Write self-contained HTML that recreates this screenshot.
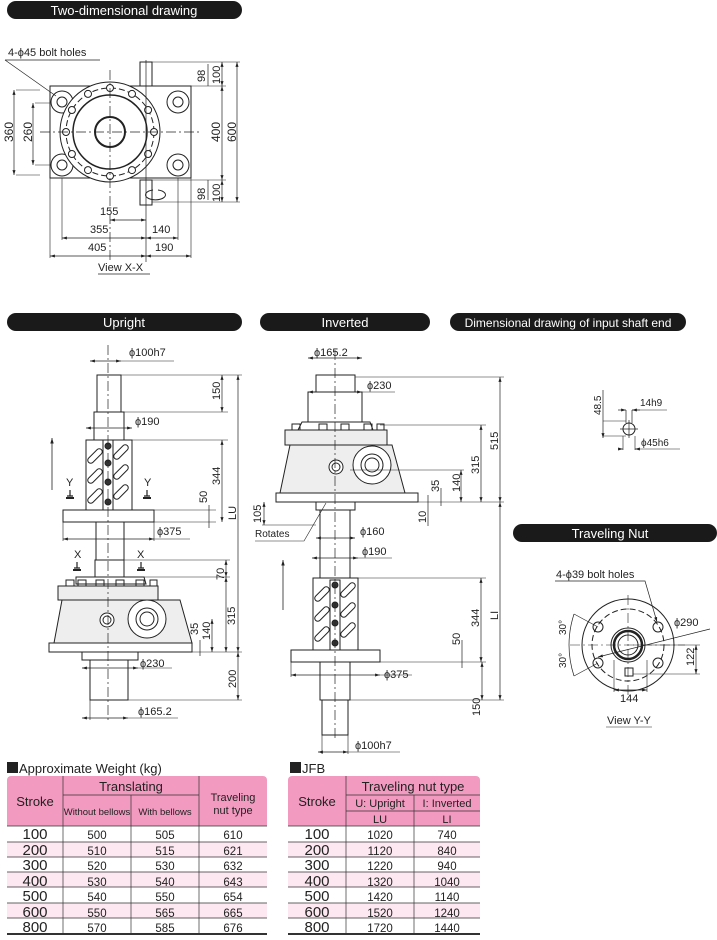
<!DOCTYPE html>
<html><head><meta charset="utf-8"><style>
body{margin:0;background:#fff;width:717px;height:940px;overflow:hidden;font-family:"Liberation Sans",sans-serif}
svg{display:block}
text{font-family:"Liberation Sans",sans-serif;fill:#222}
</style></head><body>
<svg width="717" height="940" viewBox="0 0 717 940" xmlns="http://www.w3.org/2000/svg">
<defs>
<marker id="a" markerWidth="8" markerHeight="6" refX="7" refY="3" orient="auto-start-reverse"><path d="M0,0.8 L7,3 L0,5.2z" fill="#222"/></marker>
<g id="slot"><rect x="-9" y="-3" width="18" height="6" rx="3" transform="rotate(-45)"/></g>
<g id="mk"><path d="M0,0V6M-3,6H3" stroke="#222" stroke-width="1.2"/><path d="M-4,8H4" stroke="#222" stroke-width="2"/></g>
</defs>
<g>
<rect x="7" y="1" width="235" height="18" rx="9" fill="#1a1a1a"/>
<text x="124" y="15" font-size="13" text-anchor="middle" style="fill:#fff">Two-dimensional drawing</text>
<rect x="7" y="313" width="235" height="18" rx="9" fill="#1a1a1a"/>
<text x="124" y="327" font-size="13" text-anchor="middle" style="fill:#fff">Upright</text>
<rect x="260" y="313" width="170" height="18" rx="9" fill="#1a1a1a"/>
<text x="345" y="327" font-size="13" text-anchor="middle" style="fill:#fff">Inverted</text>
<rect x="450" y="313" width="236" height="18" rx="9" fill="#1a1a1a"/>
<text x="568" y="327" font-size="12" text-anchor="middle" style="fill:#fff">Dimensional drawing of input shaft end</text>
<rect x="513" y="524" width="204" height="18" rx="9" fill="#1a1a1a"/>
<text x="610" y="538" font-size="13" text-anchor="middle" style="fill:#fff">Traveling Nut</text>
</g>

<g stroke="#222" stroke-width="1" fill="none">
<!-- top view -->
<rect x="50" y="86" width="141" height="92" fill="#fff"/>
<rect x="140" y="62" width="12" height="24" fill="#fff"/>
<rect x="140" y="180" width="12" height="25" fill="#fff"/>
<circle cx="62" cy="102" r="11" fill="#fff"/><circle cx="62" cy="102" r="5"/>
<circle cx="178" cy="102" r="11" fill="#fff"/><circle cx="178" cy="102" r="5"/>
<circle cx="62" cy="165" r="11" fill="#fff"/><circle cx="62" cy="165" r="5"/>
<circle cx="178" cy="165" r="11" fill="#fff"/><circle cx="178" cy="165" r="5"/>
<circle cx="110" cy="132" r="50" fill="#fff"/>
<circle cx="110" cy="132" r="44" stroke-dasharray="6 3"/>
<circle cx="110" cy="132" r="37" stroke-width="1.5"/>
<circle cx="110" cy="132" r="15" stroke-width="2"/>
<g fill="#fff">
<circle cx="154" cy="132" r="3.5"/><circle cx="148.1" cy="154" r="3.5"/><circle cx="132" cy="170.1" r="3.5"/><circle cx="110" cy="176" r="3.5"/><circle cx="88" cy="170.1" r="3.5"/><circle cx="71.9" cy="154" r="3.5"/><circle cx="66" cy="132" r="3.5"/><circle cx="71.9" cy="110" r="3.5"/><circle cx="88" cy="93.9" r="3.5"/><circle cx="110" cy="88" r="3.5"/><circle cx="132" cy="93.9" r="3.5"/><circle cx="148.1" cy="110" r="3.5"/>
</g>
<line x1="40" y1="132" x2="200" y2="132" stroke-dasharray="10 3 2 3" stroke-width="0.7"/>
<line x1="110" y1="70" x2="110" y2="260" stroke-dasharray="10 3 2 3" stroke-width="0.7"/>
<line x1="146" y1="60" x2="146" y2="262" stroke-width="0.7"/>
<path d="M153,190 a10,5 0 1 0 5,0"/>
<path d="M152,62H240M170,86H226M152,180H226M152,202H240M40,90H16M40,175H16M50,103H35M50,165H35" stroke-width="0.6"/>
<line x1="237" y1="62" x2="237" y2="202" marker-start="url(#a)" marker-end="url(#a)" stroke-width="0.7"/>
<line x1="222" y1="86" x2="222" y2="180" marker-start="url(#a)" marker-end="url(#a)" stroke-width="0.7"/>
<line x1="222" y1="62" x2="222" y2="86" marker-start="url(#a)" marker-end="url(#a)" stroke-width="0.7"/>
<line x1="208" y1="64" x2="208" y2="86" stroke-width="0.7"/>
<line x1="222" y1="180" x2="222" y2="202" marker-start="url(#a)" marker-end="url(#a)" stroke-width="0.7"/>
<line x1="208" y1="180" x2="208" y2="200" stroke-width="0.7"/>
<line x1="14" y1="90" x2="14" y2="175" marker-start="url(#a)" marker-end="url(#a)" stroke-width="0.7"/>
<line x1="33" y1="103" x2="33" y2="165" marker-start="url(#a)" marker-end="url(#a)" stroke-width="0.7"/>
<line x1="110" y1="220" x2="146" y2="220" marker-start="url(#a)" marker-end="url(#a)" stroke-width="0.7"/>
<line x1="62" y1="238" x2="146" y2="238" marker-start="url(#a)" marker-end="url(#a)" stroke-width="0.7"/>
<line x1="146" y1="238" x2="178" y2="238" marker-start="url(#a)" marker-end="url(#a)" stroke-width="0.7"/>
<line x1="50" y1="256" x2="146" y2="256" marker-start="url(#a)" marker-end="url(#a)" stroke-width="0.7"/>
<line x1="146" y1="256" x2="191" y2="256" marker-start="url(#a)" marker-end="url(#a)" stroke-width="0.7"/>
<path d="M62,178V240M178,178V240M50,178V258M191,178V258" stroke-width="0.6"/>
<path d="M5,60H100M5,60L56,96" stroke-width="0.7"/>
<line x1="98" y1="274" x2="150" y2="274" stroke-width="0.8"/>

<!-- upright -->
<rect x="97" y="375" width="24" height="37" fill="#fff"/>
<rect x="94" y="412" width="30" height="28" fill="#fff"/>
<rect x="86" y="440" width="46" height="70" fill="#fff"/>
<use href="#slot" x="95" y="456"/><use href="#slot" x="95" y="476"/><use href="#slot" x="95" y="496"/>
<use href="#slot" x="121" y="452"/><use href="#slot" x="121" y="472"/><use href="#slot" x="121" y="492"/>
<rect x="103" y="440" width="10" height="70" fill="#fff"/>
<g fill="#333"><circle cx="108" cy="446" r="3"/><circle cx="108" cy="463" r="3"/><circle cx="108" cy="482" r="3"/><circle cx="108" cy="502" r="3"/></g>
<rect x="63" y="510" width="91" height="12" fill="#fff"/>
<rect x="96" y="522" width="28" height="38" fill="#fff"/>
<rect x="95" y="560" width="29" height="17" fill="#fff"/>
<path d="M76,577H144L146,584H76z" fill="#fff"/>
<rect x="58" y="586" width="100" height="14" fill="#eee"/>
<path d="M62,600L54,643H192L180,600z" fill="#eee"/>
<rect x="49" y="643" width="143" height="9" fill="#fff"/>
<circle cx="107" cy="620" r="7" fill="#fff"/><circle cx="107" cy="620" r="4"/>
<circle cx="147" cy="619" r="19" fill="#fff"/><circle cx="147" cy="619" r="11"/><circle cx="147" cy="619" r="7"/>
<rect x="82" y="652" width="56" height="8" fill="#fff"/>
<rect x="90" y="660" width="38" height="40" fill="#fff"/>
<path d="M66,586V580H74V586M78,586V580H86V586M96,586V580H104V586M116,586V580H124V586M136,586V580H144V586M150,586V580H157V586"/>
<line x1="108" y1="345" x2="108" y2="720" stroke-dasharray="10 3 2 3" stroke-width="0.7"/>
<line x1="52" y1="490" x2="52" y2="438" marker-end="url(#a)" stroke-width="0.8"/>
<path d="M121,375H242M124,412H228M132,440H228M154,510H216M154,522H216M124,560H230M124,577H230M192,652H242M128,700H242" stroke-width="0.6"/>
<line x1="238" y1="375" x2="238" y2="652" marker-start="url(#a)" marker-end="url(#a)" stroke-width="0.7"/>
<line x1="238" y1="652" x2="238" y2="700" marker-start="url(#a)" marker-end="url(#a)" stroke-width="0.7"/>
<line x1="222" y1="375" x2="222" y2="412" marker-start="url(#a)" marker-end="url(#a)" stroke-width="0.7"/>
<line x1="222" y1="440" x2="222" y2="522" marker-start="url(#a)" marker-end="url(#a)" stroke-width="0.7"/>
<line x1="209" y1="505" x2="209" y2="528" stroke-width="0.7"/>
<line x1="226" y1="560" x2="226" y2="577" marker-start="url(#a)" marker-end="url(#a)" stroke-width="0.7"/>
<line x1="226" y1="577" x2="226" y2="652" marker-start="url(#a)" marker-end="url(#a)" stroke-width="0.7"/>
<line x1="212" y1="619" x2="212" y2="652" marker-start="url(#a)" marker-end="url(#a)" stroke-width="0.7"/>
<line x1="200" y1="640" x2="200" y2="656" stroke-width="0.7"/>
<line x1="90" y1="361" x2="121" y2="361" marker-start="url(#a)" marker-end="url(#a)" stroke-width="0.7"/><path d="M121,361H174" stroke-width="0.6"/>
<line x1="86" y1="428" x2="132" y2="428" marker-start="url(#a)" marker-end="url(#a)" stroke-width="0.7"/>
<line x1="63" y1="539" x2="154" y2="539" marker-start="url(#a)" marker-end="url(#a)" stroke-width="0.7"/><path d="M154,539H190M63,522V541M154,522V541" stroke-width="0.6"/>
<line x1="82" y1="668" x2="138" y2="668" marker-start="url(#a)" marker-end="url(#a)" stroke-width="0.7"/><path d="M138,668H172" stroke-width="0.6"/>
<line x1="82" y1="718" x2="128" y2="718" marker-start="url(#a)" marker-end="url(#a)" stroke-width="0.7"/><path d="M128,718H178M90,700V720" stroke-width="0.6"/>
<use href="#mk" x="70" y="490"/><use href="#mk" x="147" y="490"/><use href="#mk" x="77" y="562"/><use href="#mk" x="141" y="562"/>

<!-- inverted -->
<rect x="316" y="375" width="39" height="17" fill="#fff"/>
<rect x="308" y="392" width="54" height="30" fill="#fff"/>
<path d="M302,422H370L373,430H298z" fill="#fff"/>
<rect x="285" y="430" width="102" height="15" fill="#eee"/>
<path d="M290,445L280,493H405L392,445z" fill="#eee"/>
<rect x="276" y="493" width="142" height="9" fill="#fff"/>
<circle cx="336" cy="467" r="7" fill="#fff"/><circle cx="336" cy="467" r="4"/>
<circle cx="372" cy="465" r="19" fill="#fff"/><circle cx="372" cy="465" r="11"/><circle cx="372" cy="465" r="7"/>
<path d="M292,430V424H300V430M319,430V424H327V430M341,430V424H349V430M364,430V424H372V430M377,430V424H384V430"/>
<rect x="316" y="502" width="39" height="8" fill="#fff"/>
<rect x="320" y="510" width="30" height="68" fill="#fff"/>
<rect x="313" y="578" width="45" height="72" fill="#fff"/>
<use href="#slot" x="322" y="594"/><use href="#slot" x="322" y="614"/><use href="#slot" x="322" y="634"/>
<use href="#slot" x="348" y="590"/><use href="#slot" x="348" y="610"/><use href="#slot" x="348" y="630"/>
<rect x="330" y="580" width="10" height="70" fill="#fff"/>
<g fill="#333"><circle cx="335" cy="585" r="3"/><circle cx="335" cy="605" r="3"/><circle cx="335" cy="623" r="3"/><circle cx="335" cy="643" r="3"/></g>
<rect x="291" y="650" width="89" height="12" fill="#fff"/>
<rect x="320" y="662" width="30" height="38" fill="#fff"/>
<rect x="322" y="700" width="26" height="35" fill="#fff"/>
<line x1="335" y1="350" x2="335" y2="740" stroke-dasharray="10 3 2 3" stroke-width="0.7"/>
<line x1="283" y1="610" x2="283" y2="560" marker-end="url(#a)" stroke-width="0.8"/>
<path d="M355,377H504M380,425H486M418,502H504M358,578H486M380,662H486M350,700H504M350,470H464M400,502H432" stroke-width="0.6"/>
<line x1="500" y1="377" x2="500" y2="502" marker-start="url(#a)" marker-end="url(#a)" stroke-width="0.7"/>
<line x1="500" y1="502" x2="500" y2="700" marker-start="url(#a)" marker-end="url(#a)" stroke-width="0.7"/>
<line x1="481" y1="425" x2="481" y2="502" marker-start="url(#a)" marker-end="url(#a)" stroke-width="0.7"/>
<line x1="461" y1="470" x2="461" y2="502" marker-start="url(#a)" marker-end="url(#a)" stroke-width="0.7"/>
<line x1="441" y1="488" x2="441" y2="506" stroke-width="0.7"/>
<line x1="428" y1="495" x2="428" y2="526" stroke-width="0.7"/>
<line x1="481" y1="578" x2="481" y2="662" marker-start="url(#a)" marker-end="url(#a)" stroke-width="0.7"/>
<line x1="462" y1="640" x2="462" y2="668" stroke-width="0.7"/>
<line x1="482" y1="662" x2="482" y2="700" marker-start="url(#a)" marker-end="url(#a)" stroke-width="0.7"/>
<line x1="264" y1="502" x2="264" y2="525" marker-start="url(#a)" marker-end="url(#a)" stroke-width="0.7"/>
<path d="M262,525H316M255,541H304L326,503" stroke-width="0.6"/>
<line x1="308" y1="358" x2="362" y2="358" marker-start="url(#a)" marker-end="url(#a)" stroke-width="0.7"/>
<line x1="308" y1="392" x2="362" y2="392" marker-start="url(#a)" marker-end="url(#a)" stroke-width="0.7"/><path d="M362,392H395" stroke-width="0.6"/>
<line x1="316" y1="538" x2="355" y2="538" marker-start="url(#a)" marker-end="url(#a)" stroke-width="0.7"/>
<line x1="312" y1="558" x2="358" y2="558" marker-start="url(#a)" marker-end="url(#a)" stroke-width="0.7"/><path d="M358,558H392" stroke-width="0.6"/>
<line x1="291" y1="675" x2="380" y2="675" marker-start="url(#a)" marker-end="url(#a)" stroke-width="0.7"/><path d="M380,675H412M291,662V677" stroke-width="0.6"/>
<line x1="318" y1="752" x2="348" y2="752" marker-start="url(#a)" marker-end="url(#a)" stroke-width="0.7"/><path d="M348,752H400M322,735V754M348,735V754" stroke-width="0.6"/>

<!-- shaft end -->
<circle cx="629" cy="429" r="6" fill="#fff"/>
<path d="M620,429H638M629,420V438M626,410V423M632,410V423" stroke-width="0.7"/>
<line x1="603" y1="390" x2="603" y2="438" marker-end="url(#a)" stroke-width="0.7"/>
<path d="M603,421H626M603,436H626" stroke-width="0.6"/>
<line x1="618" y1="410" x2="626" y2="410" marker-end="url(#a)" stroke-width="0.7"/><line x1="640" y1="410" x2="632" y2="410" marker-end="url(#a)" stroke-width="0.7"/><path d="M632,410H667" stroke-width="0.6"/>
<line x1="618" y1="449" x2="623" y2="449" marker-end="url(#a)" stroke-width="0.7"/><line x1="640" y1="449" x2="635" y2="449" marker-end="url(#a)" stroke-width="0.7"/><path d="M635,449H680M623,436V450M635,436V450" stroke-width="0.6"/>

<!-- traveling nut -->
<circle cx="628" cy="645" r="46" fill="#fff"/>
<circle cx="628" cy="645" r="36" stroke-dasharray="6 3"/>
<circle cx="628" cy="645" r="17"/><circle cx="628" cy="645" r="14" stroke-width="2.5"/><circle cx="628" cy="645" r="10"/>
<circle cx="598" cy="627" r="5"/><circle cx="658" cy="627" r="5"/><circle cx="598" cy="663" r="5"/><circle cx="658" cy="663" r="5"/>
<rect x="625" y="668" width="8" height="8"/>
<line x1="570" y1="645" x2="685" y2="645" stroke-dasharray="10 3 2 3" stroke-width="0.6"/>
<line x1="628" y1="595" x2="628" y2="695" stroke-dasharray="10 3 2 3" stroke-width="0.6"/>
<path d="M555,581H645L657,622" stroke-width="0.7" marker-end="url(#a)"/>
<line x1="710" y1="629" x2="598" y2="657" stroke-width="0.7" marker-end="url(#a)"/>
<path d="M574,614 Q564,645 574,676" stroke-width="0.7"/>
<path d="M574,614L598,627M574,676L598,663" stroke-width="0.6"/>
<path d="M633,645H700M633,674H700" stroke-width="0.6"/>
<line x1="696" y1="645" x2="696" y2="674" marker-start="url(#a)" marker-end="url(#a)" stroke-width="0.7"/>
<line x1="614" y1="690" x2="647" y2="690" marker-start="url(#a)" marker-end="url(#a)" stroke-width="0.7"/>
<path d="M614,660V692M647,660V692M606,727H652" stroke-width="0.6"/>
</g>

<g font-size="11">
<text x="8" y="56">4-ϕ45 bolt holes</text>
<text x="100" y="215">155</text><text x="90" y="233">355</text><text x="152" y="233">140</text>
<text x="88" y="251">405</text><text x="155" y="251">190</text>
<text x="98" y="271">View X-X</text>
<text transform="translate(13,142) rotate(-90)" font-size="12">360</text>
<text transform="translate(32,142) rotate(-90)" font-size="12">260</text>
<text transform="translate(220,142) rotate(-90)" font-size="12">400</text>
<text transform="translate(236,142) rotate(-90)" font-size="12">600</text>
<text transform="translate(205,82) rotate(-90)">98</text><text transform="translate(220,84) rotate(-90)">100</text>
<text transform="translate(205,200) rotate(-90)">98</text><text transform="translate(220,202) rotate(-90)">100</text>

<text x="129" y="356">ϕ100h7</text>
<text x="135" y="425">ϕ190</text>
<text x="157" y="535">ϕ375</text>
<text x="140" y="667">ϕ230</text>
<text x="138" y="715">ϕ165.2</text>
<text x="66" y="486">Y</text><text x="144" y="486">Y</text>
<text x="74" y="558">X</text><text x="137" y="558">X</text>
<text transform="translate(220,400) rotate(-90)">150</text>
<text transform="translate(220,485) rotate(-90)">344</text>
<text transform="translate(207,503) rotate(-90)">50</text>
<text transform="translate(236,520) rotate(-90)">LU</text>
<text transform="translate(224,580) rotate(-90)">70</text>
<text transform="translate(235,625) rotate(-90)">315</text>
<text transform="translate(210,640) rotate(-90)">140</text>
<text transform="translate(198,635) rotate(-90)">35</text>
<text transform="translate(236,688) rotate(-90)">200</text>

<text x="314" y="356">ϕ165.2</text>
<text x="367" y="389">ϕ230</text>
<text x="360" y="535">ϕ160</text>
<text x="362" y="555">ϕ190</text>
<text x="384" y="678">ϕ375</text>
<text x="355" y="749">ϕ100h7</text>
<text x="255" y="537" font-size="10">Rotates</text>
<text transform="translate(261,523) rotate(-90)">105</text>
<text transform="translate(498,450) rotate(-90)">515</text>
<text transform="translate(479,474) rotate(-90)">315</text>
<text transform="translate(460,492) rotate(-90)">140</text>
<text transform="translate(439,492) rotate(-90)">35</text>
<text transform="translate(426,523) rotate(-90)">10</text>
<text transform="translate(498,620) rotate(-90)">LI</text>
<text transform="translate(479,627) rotate(-90)">344</text>
<text transform="translate(460,645) rotate(-90)">50</text>
<text transform="translate(480,716) rotate(-90)">150</text>

<text transform="translate(601,415) rotate(-90)" font-size="10">48.5</text>
<text x="640" y="406" font-size="10">14h9</text>
<text x="641" y="446" font-size="10">ϕ45h6</text>

<text x="556" y="578">4-ϕ39 bolt holes</text>
<text x="674" y="626">ϕ290</text>
<text transform="translate(566,635) rotate(-90)" font-size="10">30°</text>
<text transform="translate(566,668) rotate(-90)" font-size="10">30°</text>
<text transform="translate(694,666) rotate(-90)">122</text>
<text x="620" y="702">144</text>
<text x="607" y="724">View Y-Y</text>
</g>

<g font-size="13">
<rect x="7" y="762" width="11" height="11" fill="#222"/><text x="19" y="773">Approximate Weight (kg)</text>
<rect x="290" y="762" width="11" height="11" fill="#222"/><text x="302" y="773">JFB</text>
</g>
<g>
<path d="M7,826V780a4,4 0 0 1 4,-4H263a4,4 0 0 1 4,4V826z" fill="#f29ac0"/>
<path d="M288,826V780a4,4 0 0 1 4,-4H476a4,4 0 0 1 4,4V826z" fill="#f29ac0"/>
<g fill="#fde8f1">
<rect x="7" y="842" width="260" height="15"/><rect x="7" y="872" width="260" height="15"/><rect x="7" y="903" width="260" height="15"/>
<rect x="288" y="842" width="192" height="15"/><rect x="288" y="872" width="192" height="15"/><rect x="288" y="903" width="192" height="15"/>
</g>
<g stroke="#333" stroke-width="0.7">
<path d="M63,776V933M131,795V933M199,776V933M63,795H199M7,826H267M7,842H267M7,857H267M7,872H267M7,887H267M7,903H267M7,918H267"/>
<path d="M346,776V933M414,795V933M346,795H480M346,811H480M288,826H480M288,842H480M288,857H480M288,872H480M288,887H480M288,903H480M288,918H480"/>
<path d="M7,934H267M288,934H480" stroke-width="2"/>
</g>
<g text-anchor="middle" font-size="12">
<text x="131" y="791" font-size="13">Translating</text>
<text x="35" y="806" font-size="13">Stroke</text>
<text x="97" y="815" font-size="9.5">Without bellows</text>
<text x="165" y="815" font-size="9.5">With bellows</text>
<text x="233" y="801" font-size="11">Traveling</text><text x="233" y="814" font-size="11">nut type</text>
<text x="413" y="791" font-size="13">Traveling nut type</text>
<text x="317" y="806" font-size="13">Stroke</text>
<text x="380" y="807" font-size="11">U: Upright</text><text x="447" y="807" font-size="11">I: Inverted</text>
<text x="380" y="823" font-size="11">LU</text><text x="447" y="823" font-size="11">LI</text>
</g>
<g text-anchor="middle" font-size="11.5" fill="#333">
<text x="35" y="839" font-size="15">100</text><text x="97" y="839">500</text><text x="165" y="839">505</text><text x="233" y="839">610</text>
<text x="35" y="855" font-size="15">200</text><text x="97" y="855">510</text><text x="165" y="855">515</text><text x="233" y="855">621</text>
<text x="35" y="870" font-size="15">300</text><text x="97" y="870">520</text><text x="165" y="870">530</text><text x="233" y="870">632</text>
<text x="35" y="886" font-size="15">400</text><text x="97" y="886">530</text><text x="165" y="886">540</text><text x="233" y="886">643</text>
<text x="35" y="901" font-size="15">500</text><text x="97" y="901">540</text><text x="165" y="901">550</text><text x="233" y="901">654</text>
<text x="35" y="917" font-size="15">600</text><text x="97" y="917">550</text><text x="165" y="917">565</text><text x="233" y="917">665</text>
<text x="35" y="932" font-size="15">800</text><text x="97" y="932">570</text><text x="165" y="932">585</text><text x="233" y="932">676</text>
<text x="317" y="839" font-size="15">100</text><text x="380" y="839">1020</text><text x="447" y="839">740</text>
<text x="317" y="855" font-size="15">200</text><text x="380" y="855">1120</text><text x="447" y="855">840</text>
<text x="317" y="870" font-size="15">300</text><text x="380" y="870">1220</text><text x="447" y="870">940</text>
<text x="317" y="886" font-size="15">400</text><text x="380" y="886">1320</text><text x="447" y="886">1040</text>
<text x="317" y="901" font-size="15">500</text><text x="380" y="901">1420</text><text x="447" y="901">1140</text>
<text x="317" y="917" font-size="15">600</text><text x="380" y="917">1520</text><text x="447" y="917">1240</text>
<text x="317" y="932" font-size="15">800</text><text x="380" y="932">1720</text><text x="447" y="932">1440</text>
</g>
</g>
</svg>
</body></html>
